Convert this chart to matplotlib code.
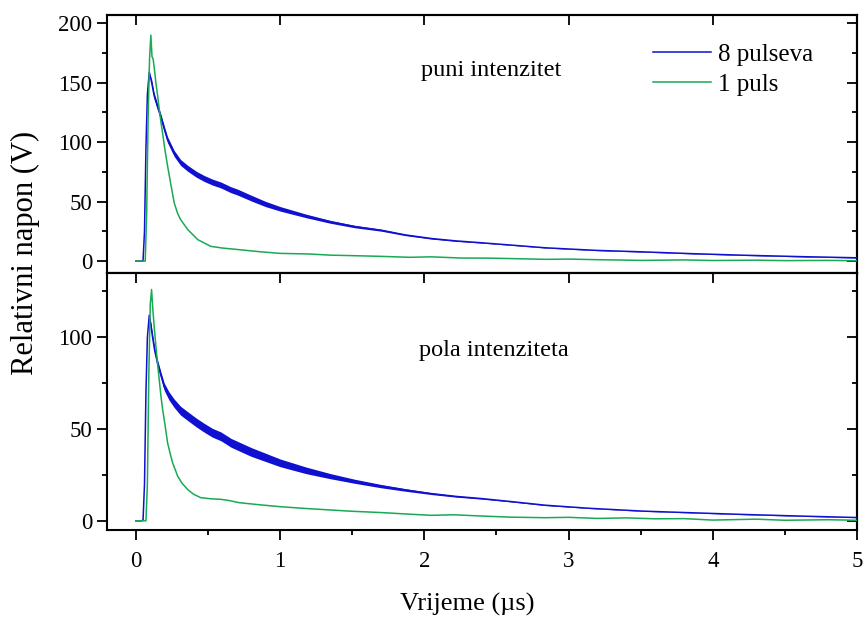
import numpy as np
import matplotlib
matplotlib.use('Agg')
import matplotlib.pyplot as plt
from matplotlib.ticker import MultipleLocator

plt.rcParams['font.family'] = ['Liberation Serif', 'DejaVu Serif']

# gornji panel - puni intenzitet
t_8_puni = [0.0, 0.04, 0.05, 0.06, 0.07, 0.08, 0.093,
            0.11, 0.127, 0.15, 0.174, 0.20, 0.22, 0.266, 0.31, 0.36, 0.42, 0.474, 0.53, 0.59, 0.66, 0.706,
            0.8, 0.9, 1.0, 1.18, 1.35, 1.52, 1.70, 1.87, 2.05, 2.22, 2.40, 2.6, 2.84, 3.0, 3.2, 3.51, 3.85, 4.2, 4.6, 5.0]
v_8_puni = [0, 0, 0.5, 25, 95, 140, 159,
            150, 139, 130, 121, 110, 102, 90.5, 83, 78, 73, 69.5, 66.5, 64, 60, 58,
            53, 48, 44, 38, 33, 29, 26, 22, 19, 17, 15.4, 13.5, 11.2, 10.2, 9.0, 7.8, 6.3, 5.0, 3.8, 2.8]
# amplituda oscilacija (pola sirine traka) procitana sa slike
a_8_puni = [0, 0, 0, 0, 0, 0, 0,
            2.5, 2.5, 2.5, 2.5, 2.5, 2.5, 2.5, 2.5, 2.5, 2.5, 2.5, 2.5, 2.5, 2.5, 2.5,
            2.4, 2.2, 1.9, 1.5, 1.2, 1.0, 0.8, 0.6, 0.5, 0.4, 0.3, 0.2, 0.2, 0.2, 0.2, 0.2, 0.2, 0.2, 0.2, 0.2]

t_1_puni = [0.0, 0.065, 0.075, 0.085, 0.095, 0.104, 0.112, 0.12, 0.13, 0.139, 0.15, 0.162, 0.175, 0.185,
            0.2, 0.22, 0.245, 0.266, 0.29, 0.31, 0.36, 0.43, 0.52, 0.6, 0.71, 0.85, 1.0, 1.2, 1.35, 1.5,
            1.7, 1.9, 2.05, 2.25, 2.45, 2.65, 2.84, 3.0, 3.2, 3.51, 3.8, 4.0, 4.3, 4.5, 4.8, 5.0]
v_1_puni = [0, 0, 40, 120, 170, 190, 172, 170, 160, 150, 140, 128, 116, 108,
            95, 80, 63, 49, 40, 35, 26.5, 18, 12.4, 11, 9.7, 8, 6.5, 6.0, 5, 4.6,
            4, 3.2, 3.6, 2.6, 2.5, 2.0, 1.5, 1.7, 1.2, 0.6, 1.0, 0.5, 0.8, 0.4, 0.6, 0.3]

# donji panel - pola intenziteta
t_8_pola = [0.0, 0.04, 0.05, 0.06, 0.07, 0.08, 0.093,
            0.105, 0.116, 0.13, 0.15, 0.175, 0.197, 0.23, 0.266, 0.31, 0.36, 0.42, 0.474, 0.53, 0.59, 0.66, 0.8, 1.0,
            1.18, 1.35, 1.52, 1.70, 1.87, 2.05, 2.22, 2.4, 2.6, 2.84, 3.15, 3.51, 3.85, 4.2, 4.6, 5.0]
v_8_pola = [0, 0, 0.5, 20, 70, 100, 112,
            106, 100, 93, 86, 79, 73, 68, 64, 60, 57, 53.5, 50.7, 48, 46, 42.5, 37.5, 31.6,
            27.5, 24.3, 21.5, 18.9, 16.8, 14.8, 13.3, 12.1, 10.5, 8.5, 6.8, 5.3, 4.4, 3.5, 2.6, 1.8]
a_8_pola = [0, 0, 0, 0, 0, 0, 0,
            1.8, 1.8, 1.8, 1.8, 1.8, 2.0, 2.2, 2.3, 2.4, 2.4, 2.4, 2.4, 2.4, 2.4, 2.4, 2.4, 2.1,
            1.8, 1.4, 1.1, 0.9, 0.7, 0.5, 0.4, 0.3, 0.2, 0.2, 0.1, 0.1, 0.1, 0.1, 0.1, 0.1]

t_1_pola = [0.0, 0.07, 0.08, 0.09, 0.1, 0.109, 0.118, 0.127, 0.138, 0.15, 0.162, 0.174, 0.185, 0.197,
            0.21, 0.22, 0.24, 0.255, 0.29, 0.32, 0.36, 0.4, 0.45, 0.52, 0.59, 0.65, 0.715, 0.85, 1.0,
            1.2, 1.35, 1.5, 1.7, 1.9, 2.05, 2.2, 2.4, 2.6, 2.84, 3.0, 3.2, 3.4, 3.6, 3.8, 4.0, 4.3, 4.5, 4.8, 5.0]
v_1_pola = [0, 0, 20, 80, 118, 126, 115, 106, 96, 86, 77, 68, 61, 55,
            48, 42.5, 36, 31.6, 24.3, 20.5, 17, 14.5, 12.6, 12, 11.7, 11, 9.9, 8.8, 7.7,
            6.6, 5.9, 5.2, 4.5, 3.6, 3.0, 3.3, 2.6, 2.0, 1.7, 1.9, 1.3, 1.6, 1.1, 1.2, 0.4, 0.9, 0.3, 0.6, 0.3]

plave = '#1010d0'
zelena = '#18aa55'

fig = plt.figure(figsize=(8.64, 6.19), dpi=100)
ax1 = fig.add_axes([107/864, 1-273/619, 750/864, 258/619])
ax2 = fig.add_axes([107/864, 1-530/619, 750/864, 257/619])

def crtaj(ax, t8, v8, a8, t1, v1):
    t8 = np.array(t8); v8 = np.array(v8); a8 = np.array(a8)
    ax.fill_between(t8, v8-a8, v8+a8, color=plave, linewidth=0, zorder=3)
    ax.plot(t8, v8, color=plave, lw=1.1, label='8 pulseva', zorder=3)
    ax.plot(t1, v1, color=zelena, lw=1.1, label='1 puls', zorder=4)

crtaj(ax1, t_8_puni, v_8_puni, a_8_puni, t_1_puni, v_1_puni)
crtaj(ax2, t_8_pola, v_8_pola, a_8_pola, t_1_pola, v_1_pola)

ax1.set_xlim(-0.2, 5)
ax2.set_xlim(-0.2, 5)
ax1.set_ylim(-10, 207)
ax2.set_ylim(-5, 135)

for ax in (ax1, ax2):
    for s in ax.spines.values():
        s.set_linewidth(1.5)
    ax.yaxis.set_major_locator(MultipleLocator(50))
    ax.yaxis.set_minor_locator(MultipleLocator(25))
    ax.tick_params(axis='y', which='major', direction='out', length=7, width=1.3, labelsize=16.5, right=False)
    ax.tick_params(axis='y', which='minor', direction='out', length=3.6, width=1.3, right=False)
    desna = ax.secondary_yaxis('right')
    desna.yaxis.set_major_locator(MultipleLocator(50))
    desna.yaxis.set_minor_locator(MultipleLocator(25))
    desna.tick_params(which='major', direction='in', length=7, width=1.3, labelright=False)
    desna.tick_params(which='minor', direction='in', length=3.6, width=1.3)
    desna.spines['right'].set_linewidth(1.5)
    gornja = ax.secondary_xaxis('top')
    gornja.xaxis.set_major_locator(MultipleLocator(1))
    gornja.tick_params(which='major', direction='in', length=7, width=1.3, labeltop=False)
    gornja.spines['top'].set_linewidth(1.5)

ax1.tick_params(axis='x', which='both', bottom=False, labelbottom=False)
ax2.xaxis.set_major_locator(MultipleLocator(1))
ax2.xaxis.set_minor_locator(MultipleLocator(0.5))
ax2.tick_params(axis='x', which='major', direction='out', length=7, width=1.3, labelsize=16.5, pad=8)
ax2.tick_params(axis='x', which='minor', direction='out', length=3.6, width=1.3)

ax1.text(1.98, 160, 'puni intenzitet', fontsize=17.5, va='center')
ax2.text(1.965, 93, 'pola intenziteta', fontsize=17.5, va='center')

ax1.legend(loc='upper left', bbox_to_anchor=(653/864, 1-43/619), bbox_transform=fig.transFigure,
           frameon=False, fontsize=18, handlelength=2.3, handletextpad=0.3, labelspacing=0.3,
           borderpad=0, borderaxespad=0)

fig.text(25/864, 1-253/619, 'Relativni napon (V)', rotation=90, fontsize=22, ha='center', va='center')
fig.text(467/864, 1-604/619, 'Vrijeme (µs)', fontsize=19, ha='center', va='center')

fig.savefig('out.png', dpi=100)
